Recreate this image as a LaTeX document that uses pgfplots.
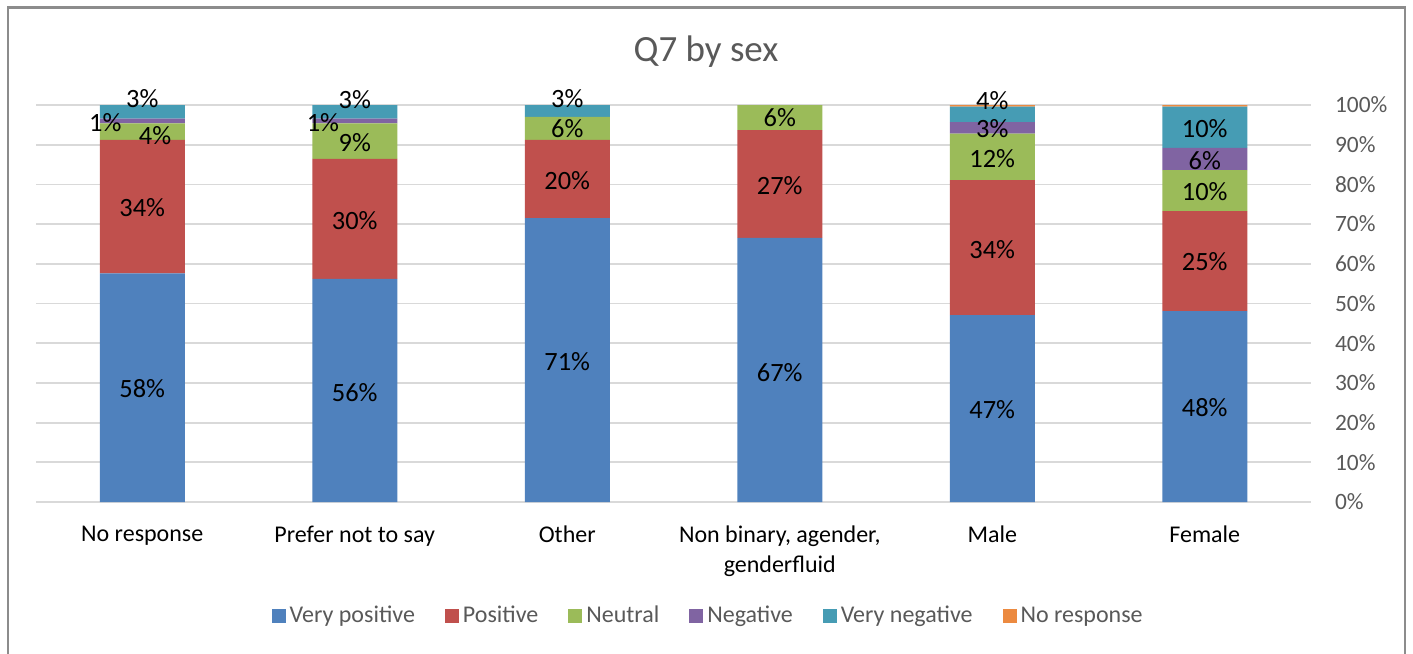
\documentclass[border=0pt]{standalone}
\usepackage{pgfplots}
\pgfplotsset{compat=1.18}
\usepackage{fontspec}
\setmainfont{Carlito}
\definecolor{cblue}{RGB}{79,129,189}
\definecolor{cred}{RGB}{192,80,77}
\definecolor{cgreen}{RGB}{155,187,89}
\definecolor{cpurple}{RGB}{128,100,162}
\definecolor{cteal}{RGB}{70,156,180}
\definecolor{corange}{RGB}{236,138,64}
\definecolor{txtgray}{RGB}{89,89,89}
\definecolor{gridgray}{RGB}{217,217,217}
\pgfplotsset{common/.style={
  at={(18pt,-251pt)}, anchor=south west,
  scale only axis, width=637.5pt, height=198.5pt,
  xmin=-0.5, xmax=5.5, ymin=0, ymax=100, clip=false}}
\begin{document}
\begin{tikzpicture}
\path[use as bounding box] (0,0) rectangle (706.5pt,-326.5pt);
\draw[color=black!45, line width=1.2pt] (4pt,-3.8pt) rectangle (702.5pt,-345pt);
\node[text=txtgray, font=\fontsize{18.5}{22}\selectfont] at (353pt,-26pt) {Q7 by sex};
\begin{axis}[
  common,
  ybar stacked, bar width=0.4,
  xtick={0,1,2,3,4,5},
  xticklabels={No response,Prefer not to say,Other,{Non binary, agender,\\genderfluid},Male,Female},
  xticklabel style={align=center, text=black, font=\fontsize{12}{15}\selectfont, yshift=-8.5pt},
  ytick={0,10,...,100},
  yticklabel={\pgfmathprintnumber{\tick}\%},
  /pgf/number format/assume math mode=true,
  yticklabel style={text=txtgray, font=\fontsize{11.7}{13}\selectfont, anchor=west, xshift=8.5pt},
  major tick length=0pt,
  ymajorgrids, grid style={gridgray, line width=0.9pt},
  axis x line*=bottom, axis y line*=right,
  x axis line style={gridgray, line width=0.9pt},
  y axis line style={draw=none},
  legend style={at={(0.528,-0.287)}, anchor=center, draw=none, legend columns=6,
    font=\fontsize{12}{14}\selectfont, text=txtgray,
    /tikz/every even column/.append style={column sep=13pt}},
  legend image code/.code={\fill[#1] (-1.5pt,-3.5pt) rectangle (5.5pt,3.5pt);},
]
\addplot[fill=cblue, draw=none] coordinates {(0,57.6) (1,56.2) (2,71.5) (3,66.5) (4,47.1) (5,48.1)};
\addplot[fill=cred, draw=none] coordinates {(0,33.6) (1,30.2) (2,19.7) (3,27.2) (4,34.0) (5,25.2)};
\addplot[fill=cgreen, draw=none] coordinates {(0,4.2) (1,9.0) (2,5.8) (3,6.3) (4,11.7) (5,10.3)};
\addplot[fill=cpurple, draw=none] coordinates {(0,1.2) (1,1.2) (2,0) (3,0) (4,2.9) (5,5.6)};
\addplot[fill=cteal, draw=none] coordinates {(0,3.4) (1,3.4) (2,3.0) (3,0) (4,3.9) (5,10.4)};
\addplot[fill=corange, draw=none] coordinates {(0,0) (1,0) (2,0) (3,0) (4,0.4) (5,0.4)};
\legend{Very positive,Positive,Neutral,Negative,Very negative,No response}
\end{axis}
\begin{axis}[common, hide axis]
\addplot[only marks, mark=none, point meta=explicit symbolic,
  nodes near coords, nodes near coords align=center,
  every node near coord/.append style={font=\fontsize{13.2}{15}\selectfont, text=black, anchor=center}]
  table[meta=lab] {
x y lab
0 28.5 58\%
0 74.2 34\%
0.06 92.4 4\%
-0.174 95.6 1\%
0 101.7 3\%
1 27.5 56\%
1 71 30\%
1 90.6 9\%
0.85 95.6 1\%
1 101.3 3\%
2 35.3 71\%
2 80.9 20\%
2 94 6\%
2 101.6 3\%
3 32.7 67\%
3 79.8 27\%
3 96.7 6\%
4 23.4 47\%
4 63.7 34\%
4 86.6 12\%
4 94 3\%
4 101.2 4\%
5 23.7 48\%
5 60.5 25\%
5 78.3 10\%
5 86.0 6\%
5 94.0 10\%
};
\end{axis}
\end{tikzpicture}
\end{document}
